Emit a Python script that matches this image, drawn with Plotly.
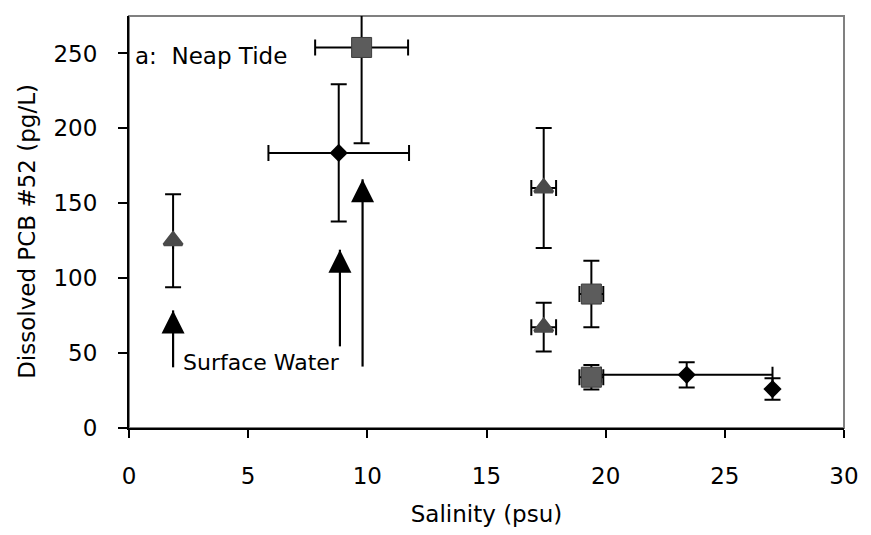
import plotly.graph_objects as go

# ---- data ----
# Diamonds (black)
dia_x = [8.8, 23.4, 27.0]
dia_y = [183.6, 35.5, 26.0]
dia_ey = [45.8, 8.4, 7.2]
dia_ex = [2.95, 3.6, 0.0]

# Squares (dark gray)
sq_x = [9.76, 19.4, 19.4]
sq_y = [254.0, 89.4, 33.9]
sq_ey = [64.0, 22.2, 8.2]
sq_ex = [1.95, 0.5, 0.5]

# Triangles (gray)
tri_x = [1.85, 17.4, 17.4]
tri_y = [125.0, 160.2, 67.3]
tri_ey = [31.0, 40.0, 16.3]
tri_ex = [0.0, 0.52, 0.52]

# Surface water arrows (tip position and tail)
surf_x = [1.85, 8.85, 9.8]
surf_tip_y = [78.5, 119.0, 166.0]
surf_tail_y = [40.5, 54.5, 41.0]

x_ticks = [0, 5, 10, 15, 20, 25, 30]
y_ticks = [0, 50, 100, 150, 200, 250]

FONT = "DejaVu Sans"
fig = go.Figure()

# arrow stems
sx, sy = [], []
for x, t, b in zip(surf_x, surf_tip_y, surf_tail_y):
    sx += [x, x, None]
    sy += [b, t, None]
fig.add_trace(go.Scatter(x=sx, y=sy, mode="lines",
                         line=dict(color="black", width=2.2),
                         hoverinfo="skip", showlegend=False))
fig.add_trace(go.Scatter(x=surf_x, y=surf_tip_y, mode="markers",
                         marker=dict(symbol="arrow-up", size=23, color="black",
                                     line=dict(width=0)),
                         showlegend=False))

eb = dict(type="data", symmetric=True, color="black", thickness=2, width=8)

fig.add_trace(go.Scatter(
    x=dia_x, y=dia_y, mode="markers",
    marker=dict(symbol="diamond", size=14, color="black"),
    error_y=dict(array=dia_ey, **eb),
    error_x=dict(array=dia_ex, **eb),
    showlegend=False))

fig.add_trace(go.Scatter(
    x=sq_x, y=sq_y, mode="markers", cliponaxis=False,
    marker=dict(symbol="square", size=20, color="#5c5c5c",
                line=dict(color="#3c3c3c", width=1)),
    error_y=dict(array=sq_ey, **eb),
    error_x=dict(array=sq_ex, **eb),
    showlegend=False))

fig.add_trace(go.Scatter(
    x=tri_x, y=tri_y, mode="markers",
    marker=dict(symbol="triangle-up", size=16, color="#4a4a4a",
                line=dict(color="#4a4a4a", width=3)),
    error_y=dict(array=tri_ey, **eb),
    error_x=dict(array=tri_ex, **eb),
    showlegend=False))

# plot frame (gray top/right)
fig.add_shape(type="rect", xref="paper", yref="paper", x0=0, y0=0, x1=1, y1=1,
              line=dict(color="#808080", width=2), layer="below")

fig.update_layout(
    width=871, height=535,
    margin=dict(l=129, r=19, t=16, b=105),
    paper_bgcolor="white", plot_bgcolor="white",
    font=dict(family=FONT, size=23, color="black"),
    xaxis=dict(range=[0, 30], tickvals=x_ticks, ticktext=[str(v) for v in x_ticks],
               showgrid=False, zeroline=False, showline=True, linecolor="black",
               linewidth=2, ticks="outside", ticklen=8, tickwidth=1.5, tickcolor="black",
               ticklabelstandoff=18,
               title=dict(text="Salinity (psu)", font=dict(size=23), standoff=18)),
    yaxis=dict(range=[0, 275], tickvals=y_ticks, ticktext=[str(v) for v in y_ticks],
               showgrid=False, zeroline=False, showline=True, linecolor="black",
               linewidth=2, ticks="outside", ticklen=9, tickwidth=1.5, tickcolor="black",
               ticklabelstandoff=16),
    annotations=[
        dict(text="Dissolved PCB #52 (pg/L)", xref="paper", yref="y",
             x=(26 - 129) / 722, y=131.6, textangle=-90, showarrow=False,
             xanchor="center", yanchor="middle", font=dict(size=23)),
        dict(text="a:  Neap Tide", xref="x", yref="y", x=0.17, y=248,
             showarrow=False, xanchor="left", yanchor="middle", font=dict(size=23)),
        dict(text="Surface Water", xref="x", yref="y", x=2.2, y=44,
             showarrow=False, xanchor="left", yanchor="middle", font=dict(size=22)),
    ],
)

fig.write_html("out.html")
